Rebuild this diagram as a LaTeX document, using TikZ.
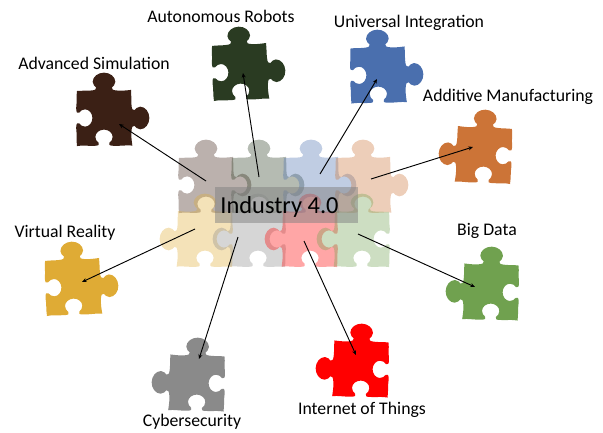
\documentclass[tikz,border=0pt]{standalone}
\usepackage{fontspec}
\setmainfont{Carlito}
\usetikzlibrary{arrows.meta}
\definecolor{cBrown}{HTML}{3B2015}
\definecolor{cDkGreen}{HTML}{2A3B22}
\definecolor{cBlue}{HTML}{4A6FAE}
\definecolor{cOrange}{HTML}{CC7437}
\definecolor{cGreen}{HTML}{70A14F}
\definecolor{cRed}{HTML}{FF0000}
\definecolor{cGrey}{HTML}{8A8A8A}
\definecolor{cYellow}{HTML}{DFAB35}
\newcommand{\piecepath}{
  (-1,1) .. controls (-.8,1.02) and (-.65,1.0) .. (-.46,1.02)
  .. controls (-.34,1.03) and (-.27,1.06) .. (-.29,1.13)
  .. controls (-.34,1.18) and (-.42,1.24) .. (-.42,1.34)
  .. controls (-.42,1.53) and (-.22,1.68) .. (0,1.68)
  .. controls (.22,1.68) and (.42,1.53) .. (.42,1.34)
  .. controls (.42,1.24) and (.34,1.18) .. (.29,1.13)
  .. controls (.27,1.06) and (.34,1.03) .. (.46,1.02)
  .. controls (.65,1.0) and (.8,1.02) .. (1,1.04)
  .. controls (1.02,.8) and (1.0,.65) .. (1.02,.46)
  .. controls (1.03,.34) and (1.06,.27) .. (1.13,.29)
  .. controls (1.18,.34) and (1.24,.42) .. (1.34,.42)
  .. controls (1.53,.42) and (1.68,.22) .. (1.68,0)
  .. controls (1.68,-.22) and (1.53,-.42) .. (1.34,-.42)
  .. controls (1.24,-.42) and (1.18,-.34) .. (1.13,-.29)
  .. controls (1.06,-.27) and (1.03,-.34) .. (1.02,-.46)
  .. controls (1.0,-.65) and (1.02,-.8) .. (1.05,-1.02)
  .. controls (.8,-1.0) and (.6,-1.04) .. (.38,-1.03)
  .. controls (.2,-1.04) and (.15,-.98) .. (.2,-.92)
  .. controls (.27,-.86) and (.32,-.8) .. (.32,-.7)
  .. controls (.32,-.55) and (.17,-.43) .. (0,-.43)
  .. controls (-.17,-.43) and (-.32,-.55) .. (-.32,-.7)
  .. controls (-.32,-.8) and (-.27,-.86) .. (-.2,-.92)
  .. controls (-.15,-.98) and (-.2,-1.04) .. (-.38,-1.03)
  .. controls (-.6,-1.04) and (-.8,-1.0) .. (-1,-1.04)
  .. controls (-1.03,-.8) and (-1.0,-.6) .. (-1.03,-.38)
  .. controls (-1.04,-.2) and (-.98,-.15) .. (-.92,-.2)
  .. controls (-.86,-.27) and (-.8,-.32) .. (-.7,-.32)
  .. controls (-.55,-.32) and (-.43,-.17) .. (-.43,0)
  .. controls (-.43,.17) and (-.55,.32) .. (-.7,.32)
  .. controls (-.8,.32) and (-.86,.27) .. (-.92,.2)
  .. controls (-.98,.15) and (-1.04,.2) .. (-1.03,.38)
  .. controls (-1.0,.6) and (-1.03,.8) .. (-1,1) -- cycle}
% x, y, rotation, mirror (1 or -1), colour, opacity
\newcommand{\puzzle}[6]{%
  \begin{scope}[shift={(#1,#2)},yscale=-1,rotate=#3,xscale=#4,scale=27]
    \fill[#5,fill opacity=#6] \piecepath;
  \end{scope}}
\tikzset{
  lbl/.style={font=\fontsize{13.3}{15}\selectfont,inner sep=0pt,text=black},
  link/.style={line width=.7pt,black,-{Stealth[length=3.5pt,width=3pt]}}
}
\begin{document}
\begin{tikzpicture}[x=.75pt,y=-.75pt]
\useasboundingbox (0,0) rectangle (603,432);
% central puzzle
\puzzle{206}{185}{0}{1}{cBrown}{.35}
\puzzle{259}{185}{0}{1}{cDkGreen}{.35}
\puzzle{311}{185}{0}{1}{cBlue}{.35}
\puzzle{363}{185}{0}{1}{cOrange}{.35}
\puzzle{205}{239}{0}{-1}{cYellow}{.35}
\puzzle{258}{239}{0}{-1}{cGrey}{.35}
\puzzle{310}{239}{0}{-1}{cRed}{.35}
\puzzle{362}{239}{0}{-1}{cGreen}{.35}
\fill[gray,fill opacity=.5] (215,187) rectangle (358,223);
% outer pieces
\puzzle{104}{118}{0}{1}{cBrown}{1}
\puzzle{240}{72}{-2}{1}{cDkGreen}{1}
\puzzle{378}{75}{-1}{1}{cBlue}{1}
\puzzle{484}{155}{2}{-1}{cOrange}{1}
\puzzle{491}{292}{1}{-1}{cGreen}{1}
\puzzle{361}{369}{1}{-1}{cRed}{1}
\puzzle{197}{383}{1}{-1}{cGrey}{1}
\puzzle{73}{287}{-2}{1}{cYellow}{1}
% labels
\node[lbl] (lRobots) at (221,16) {Autonomous Robots};
\node[lbl] (lInteg) at (409,23) {Universal Integration};
\node[lbl] (lSim) at (94,63) {Advanced Simulation};
\node[lbl] (lAdd) at (508,97) {Additive Manufacturing};
\node[lbl] (lVR) at (65,233) {Virtual Reality};
\node[lbl] (lBig) at (487,231) {Big Data};
\node[lbl] (lCyber) at (192,422) {Cybersecurity};
\node[lbl] (lIoT) at (362,410) {Internet of Things};
\node[font=\fontsize{18.3}{20}\selectfont,inner sep=0pt] (title) at (279.5,206.5) {Industry 4.0};
% connector ends
\coordinate (sSim) at (206,181);   \coordinate (tSim) at (119,124);
\coordinate (sRob) at (259,177);   \coordinate (tRob) at (243,73);
\coordinate (sInt) at (320,174);   \coordinate (tInt) at (377,79);
\coordinate (sAdd) at (371,179);   \coordinate (tAdd) at (473,147);
\coordinate (sBig) at (358,234);   \coordinate (tBig) at (475,287);
\coordinate (sIoT) at (304,241);   \coordinate (tIoT) at (356,355);
\coordinate (sCyb) at (238,237);   \coordinate (tCyb) at (199,359);
\coordinate (sVR) at (195,229);    \coordinate (tVR) at (82,282);
\draw[link] (sSim) -- (tSim);
\draw[link] (sRob) -- (tRob);
\draw[link] (sInt) -- (tInt);
\draw[link] (sAdd) -- (tAdd);
\draw[link] (sBig) -- (tBig);
\draw[link] (sIoT) -- (tIoT);
\draw[link] (sCyb) -- (tCyb);
\draw[link] (sVR) -- (tVR);
\end{tikzpicture}
\end{document}
